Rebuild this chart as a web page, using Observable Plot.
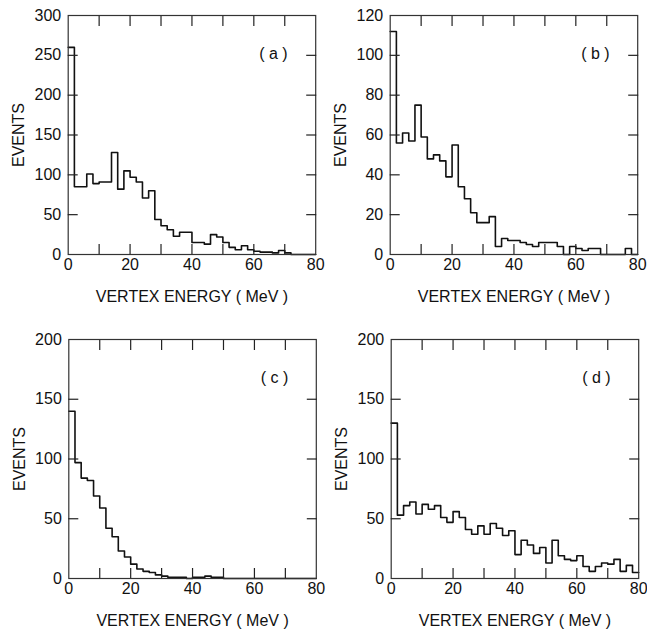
<!DOCTYPE html>
<html><head><meta charset="utf-8">
<script src="https://cdn.jsdelivr.net/npm/d3@7"></script>
<script src="https://cdn.jsdelivr.net/npm/@observablehq/plot@0.6"></script>
<style>
body{margin:0;background:#fff;}
#wrap{position:relative;width:647px;height:629px;background:#fff;overflow:hidden;}
.panel{position:absolute;}
</style></head><body><div id="wrap"></div>
<script>
// Bin edges (MeV), 2 MeV bins from 0 to 80
const binEdges = [0,2,4,6,8,10,12,14,16,18,20,22,24,26,28,30,32,34,36,38,40,42,44,46,48,50,52,54,56,58,60,62,64,66,68,70,72,74,76,78,80];

// Events per bin
const eventsA = [260,85,85,101,89,91,91,128,82,105,97,91,71,80,44,36,31,23,28,28,15,15,13,25,22,15,9,6,11,6,4,3,3,2,5,2,0,0,0,0];
const eventsB = [112,56,61,57,75,59,48,50,47,39,55,34,28,21,16,16,19,4,8,7,7,6,5,4,6,6,6,4,0,4,3,2,3,3,0,0,0,0,3,0];
const eventsC = [140,97,84,82,69,59,42,35,23,18,12,8,6,5,3,2,1,1,1,0,1,1,2,1,1,0,0,0,0,0,0,0,0,0,0,0,0,0,0,0];
const eventsD = [130,53,61,64,54,62,58,61,51,47,56,51,41,37,44,37,46,42,36,40,20,32,28,21,26,13,32,19,16,15,19,10,6,10,13,12,16,6,11,5];

const panelLabels = ["( a )", "( b )", "( c )", "( d )"];
const yTicksA = [0,50,100,150,200,250,300];
const yTicksB = [0,20,40,60,80,100,120];
const yTicksCD = [0,50,100,150,200];
const xTickLabels = [0,20,40,60,80];
const xMinorTicks = [10,20,30,40,50,60,70];
const xLabel = "VERTEX ENERGY ( MeV )";
const yLabel = "EVENTS";

const FONT = "'Liberation Sans', Arial, sans-serif";
const FW = 247.5, FH = 239;

const panels = [
  {values: eventsA, label: panelLabels[0], yTicks: yTicksA, left: 0,   top: 0,   w: 323, h: 324, ml: 67.7, mt: 15},
  {values: eventsB, label: panelLabels[1], yTicks: yTicksB, left: 323, top: 0,   w: 324, h: 324, ml: 66.7, mt: 15},
  {values: eventsC, label: panelLabels[2], yTicks: yTicksCD, left: 0,  top: 324, w: 323, h: 305, ml: 68.3, mt: 15},
  {values: eventsD, label: panelLabels[3], yTicks: yTicksCD, left: 323,top: 324, w: 324, h: 305, ml: 67.7, mt: 15}
];

const wrap = document.getElementById("wrap");
for (const p of panels) {
  const data = p.values.map((v, i) => ({e: binEdges[i], n: v}));
  data.push({e: binEdges[binEdges.length - 1], n: p.values[p.values.length - 1]});
  const yMax = p.yTicks[p.yTicks.length - 1];
  const yInner = p.yTicks.slice(1, -1);
  const tickStyle = {stroke: "#222", strokeWidth: 1.2, tickSize: -10, tickFormat: () => "", label: null};
  const chart = Plot.plot({
    width: p.w, height: p.h,
    marginLeft: p.ml, marginTop: p.mt,
    marginRight: p.w - p.ml - FW,
    marginBottom: p.h - p.mt - FH,
    style: {fontFamily: FONT, fontSize: "16px", color: "#111", background: "transparent", overflow: "visible"},
    x: {domain: [0, 80]},
    y: {domain: [0, yMax]},
    marks: [
      Plot.line(data, {x: "e", y: "n", curve: "step-after", stroke: "#111", strokeWidth: 1.6}),
      Plot.frame({stroke: "#333", strokeWidth: 1.2}),
      Plot.axisX({...tickStyle, ticks: xMinorTicks, anchor: "bottom"}),
      Plot.axisX({...tickStyle, ticks: xMinorTicks, anchor: "top"}),
      Plot.axisY({...tickStyle, ticks: yInner, anchor: "left"}),
      Plot.axisY({...tickStyle, ticks: yInner, anchor: "right"}),
      Plot.axisX({ticks: xTickLabels, anchor: "bottom", tickSize: 0, tickPadding: 4, label: null, fill: "#111"}),
      Plot.axisY({ticks: p.yTicks, anchor: "left", tickSize: 0, tickPadding: 7, label: null, fill: "#111"}),
      Plot.text([xLabel], {frameAnchor: "bottom", dy: 42, lineAnchor: "middle", text: d => d, fill: "#111"}),
      Plot.text([yLabel], {frameAnchor: "left", dx: -49, rotate: -90, lineAnchor: "middle", textAnchor: "middle", text: d => d, fill: "#111"}),
      Plot.text([p.label], {frameAnchor: "top-right", dx: -28, dy: 38, textAnchor: "end", lineAnchor: "middle", text: d => d, fill: "#111"})
    ]
  });
  chart.classList.add("panel");
  chart.style.left = p.left + "px";
  chart.style.top = p.top + "px";
  wrap.appendChild(chart);
}
</script></body></html>
